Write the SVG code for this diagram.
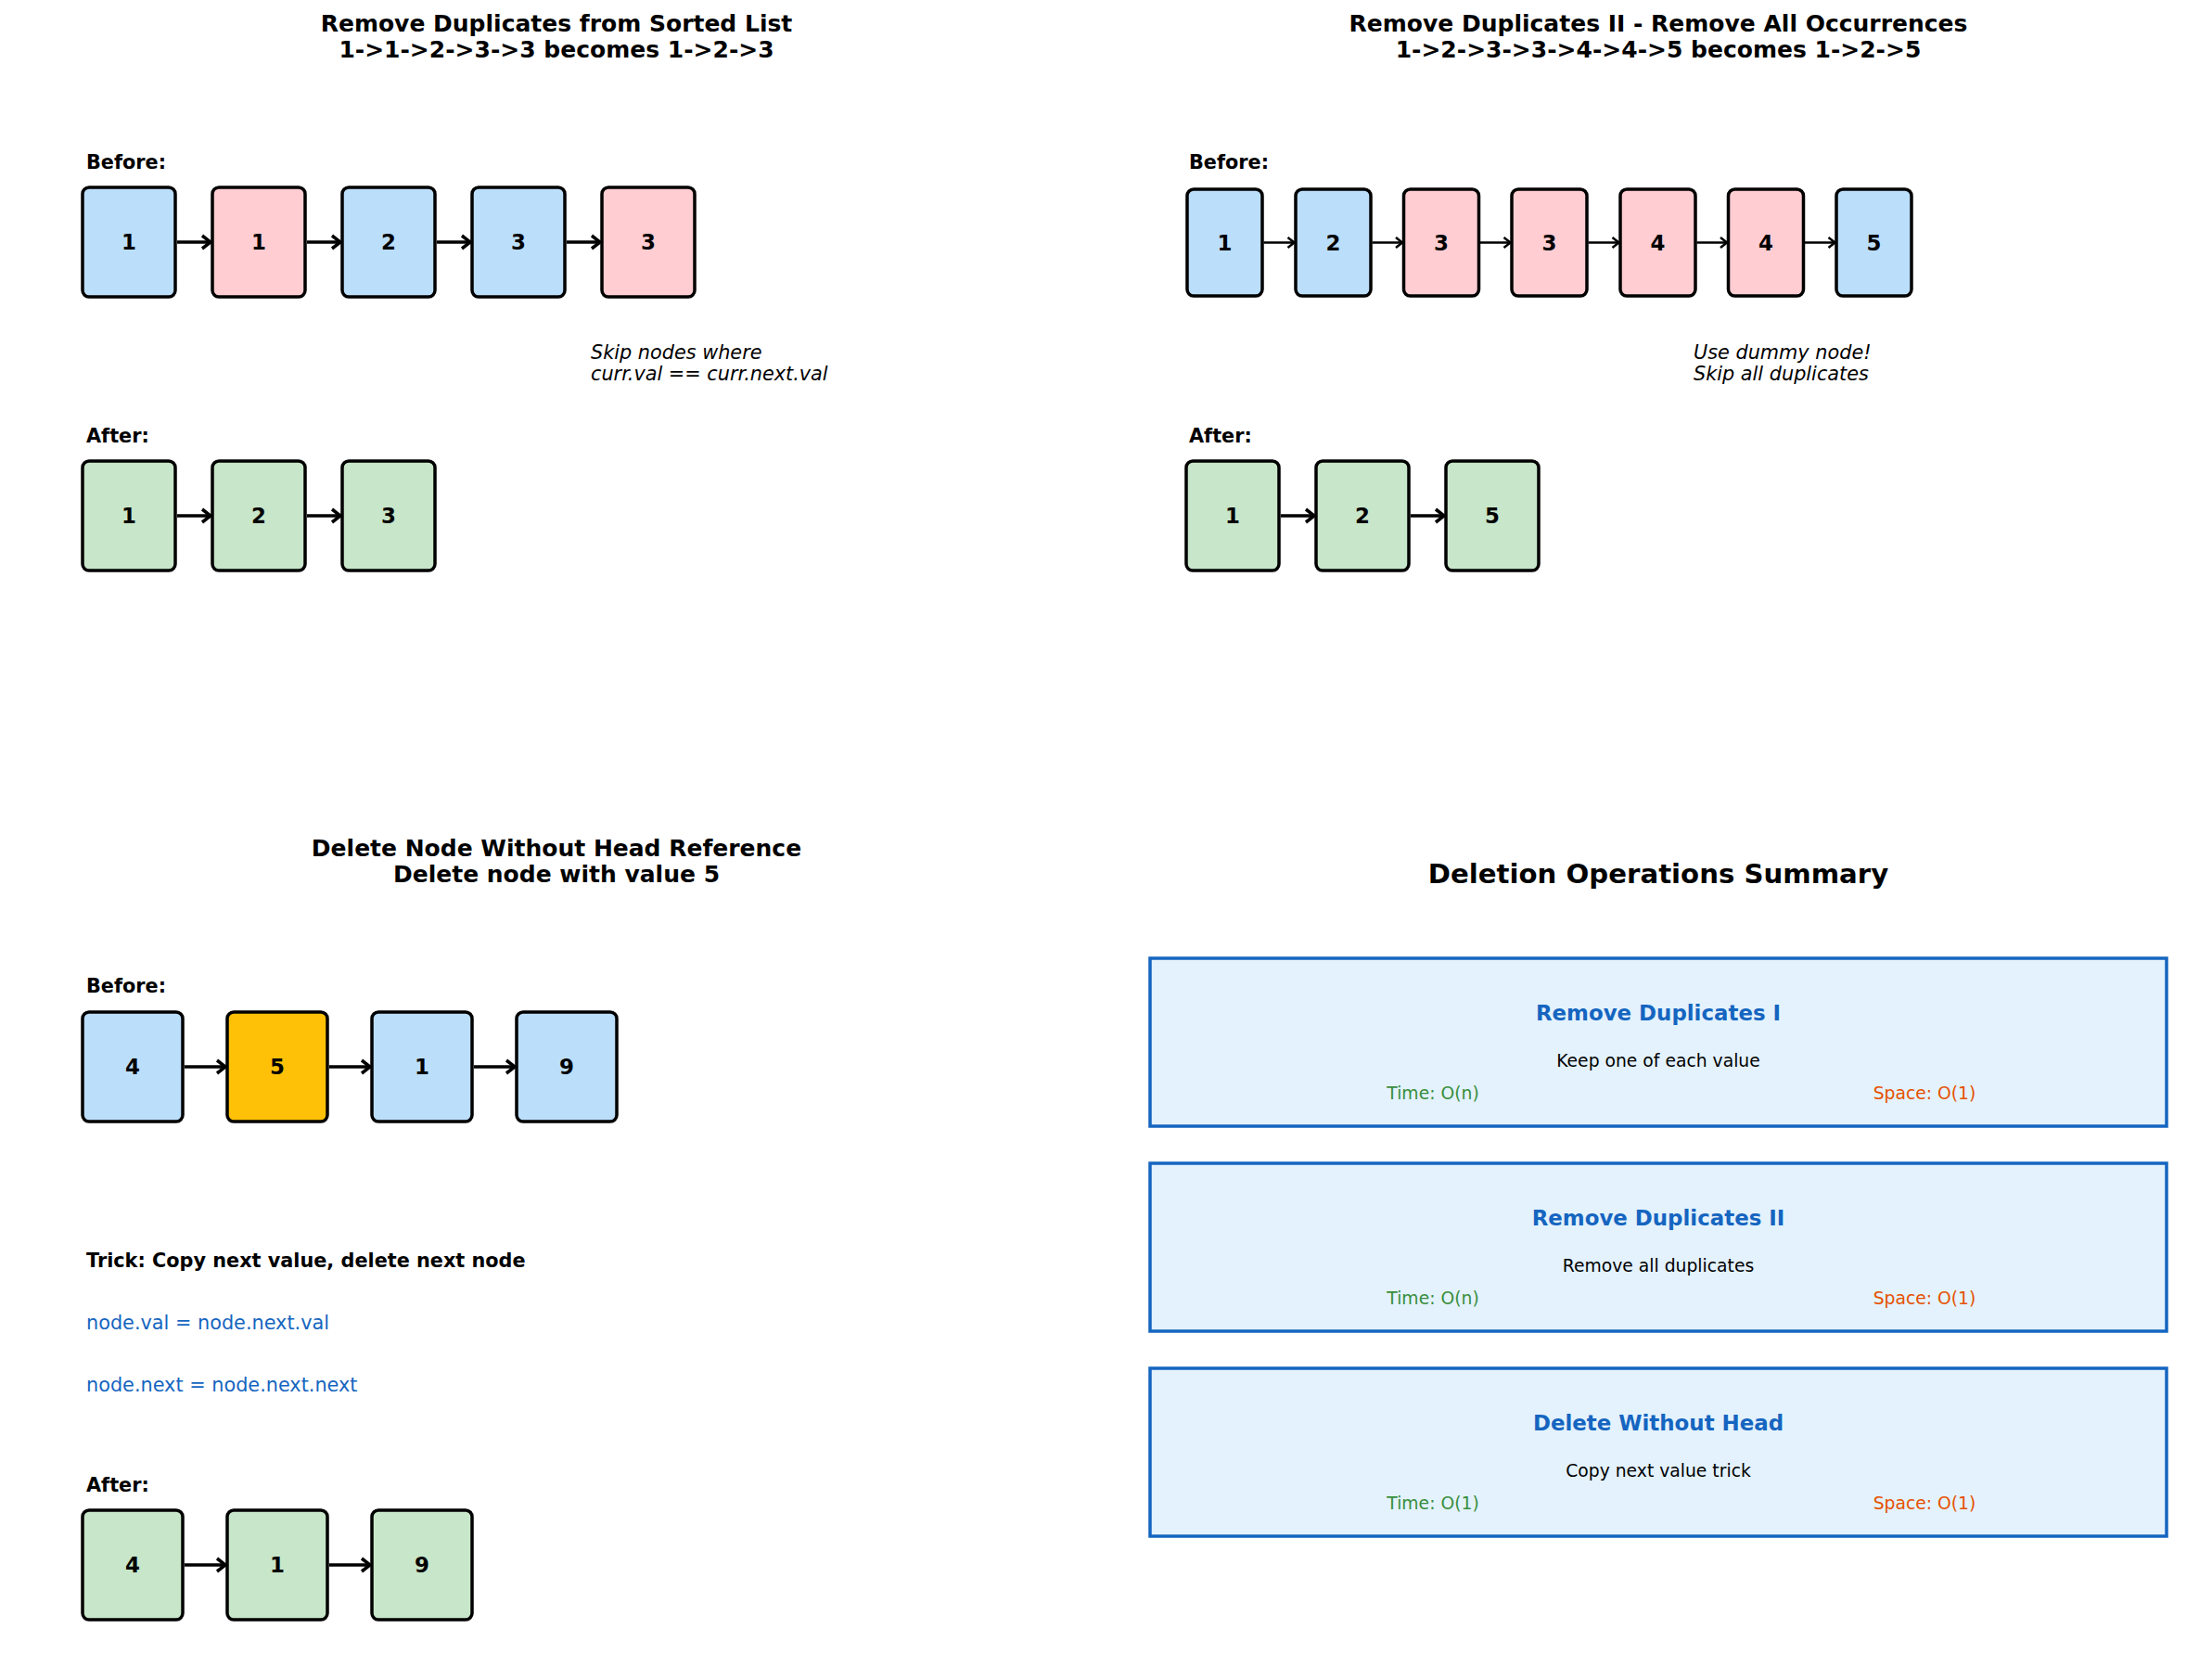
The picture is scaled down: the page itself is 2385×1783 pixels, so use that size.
<svg xmlns="http://www.w3.org/2000/svg" width="2385" height="1783" viewBox="0 0 2385 1783">
<style>
text{font-family:"DejaVu Sans","Liberation Sans",sans-serif;fill:#000}
.title{font-size:25px;font-weight:bold;text-anchor:middle}
.big{font-size:29.2px;font-weight:bold;text-anchor:middle}
.lbl{font-size:20.8px;font-weight:bold}
.num{font-size:22.9px;font-weight:bold;text-anchor:middle}
.note{font-size:20.8px;font-style:italic}
.code{font-size:20.8px;fill:#1565C0}
.trick{font-size:20.8px;font-weight:bold}
.node rect{stroke:#000;stroke-width:3.5}
.blue{fill:#BBDEFB}.pink{fill:#FFCDD2}.green{fill:#C8E6C9}.gold{fill:#FFC107}
.sbox rect{fill:#E3F2FD;stroke:#1565C0;stroke-width:3.5}
.st{font-size:22.9px;font-weight:bold;fill:#1565C0;text-anchor:middle}
.sd{font-size:18.75px;text-anchor:middle}
.tm{font-size:18.75px;fill:#388E3C;text-anchor:middle}
.sp{font-size:18.75px;fill:#E65100;text-anchor:middle}
.ar{stroke:#000;stroke-width:3.5;fill:none}
.ar2{stroke:#000;stroke-width:2.5;fill:none}
</style>
<defs>
<marker id="h" markerUnits="userSpaceOnUse" markerWidth="20" markerHeight="20" refX="12" refY="10" orient="auto" viewBox="0 0 20 20">
<path d="M3,3 L12,10 L3,17" fill="none" stroke="#000" stroke-width="3.5"/>
</marker>
<marker id="hs" markerUnits="userSpaceOnUse" markerWidth="20" markerHeight="20" refX="12" refY="10" orient="auto" viewBox="0 0 20 20">
<path d="M5,4.5 L12,10 L5,15.5" fill="none" stroke="#000" stroke-width="2.5"/>
</marker>
</defs>

<!-- Titles and labels -->
<g id="labels">
<text class="title" x="600" y="33.5">Remove Duplicates from Sorted List</text>
<text class="title" x="600" y="62">1-&gt;1-&gt;2-&gt;3-&gt;3 becomes 1-&gt;2-&gt;3</text>
<text class="lbl" x="93" y="181.5">Before:</text>
<text class="note" x="637" y="386.5">Skip nodes where</text>
<text class="note" x="637" y="410">curr.val == curr.next.val</text>
<text class="lbl" x="93" y="476.5">After:</text>

<text class="title" x="1788" y="33.5">Remove Duplicates II - Remove All Occurrences</text>
<text class="title" x="1788" y="62">1-&gt;2-&gt;3-&gt;3-&gt;4-&gt;4-&gt;5 becomes 1-&gt;2-&gt;5</text>
<text class="lbl" x="1282" y="181.5">Before:</text>
<text class="note" x="1826" y="386.5">Use dummy node!</text>
<text class="note" x="1826" y="410">Skip all duplicates</text>
<text class="lbl" x="1282" y="476.5">After:</text>

<text class="title" x="600" y="922.5">Delete Node Without Head Reference</text>
<text class="title" x="600" y="951">Delete node with value 5</text>
<text class="lbl" x="93" y="1070">Before:</text>
<text class="trick" x="93" y="1366">Trick: Copy next value, delete next node</text>
<text class="code" x="93" y="1433">node.val = node.next.val</text>
<text class="code" x="93" y="1500">node.next = node.next.next</text>
<text class="lbl" x="93" y="1608">After:</text>

<text class="big" x="1788" y="951.5">Deletion Operations Summary</text>
</g>

<!-- Panel 1: before -->
<g id="p1b1" class="node"><rect class="blue" x="89" y="202" width="100" height="118" rx="7"/><text class="num" x="139" y="269">1</text></g>
<g id="p1b2" class="node"><rect class="pink" x="229" y="202" width="100" height="118" rx="7"/><text class="num" x="279" y="269">1</text></g>
<g id="p1b3" class="node"><rect class="blue" x="369" y="202" width="100" height="118" rx="7"/><text class="num" x="419" y="269">2</text></g>
<g id="p1b4" class="node"><rect class="blue" x="509" y="202" width="100" height="118" rx="7"/><text class="num" x="559" y="269">3</text></g>
<g id="p1b5" class="node"><rect class="pink" x="649" y="202" width="100" height="118" rx="7"/><text class="num" x="699" y="269">3</text></g>
<!-- Panel 1: after -->
<g id="p1a1" class="node"><rect class="green" x="89" y="497" width="100" height="118" rx="7"/><text class="num" x="139" y="564">1</text></g>
<g id="p1a2" class="node"><rect class="green" x="229" y="497" width="100" height="118" rx="7"/><text class="num" x="279" y="564">2</text></g>
<g id="p1a3" class="node"><rect class="green" x="369" y="497" width="100" height="118" rx="7"/><text class="num" x="419" y="564">3</text></g>

<!-- Panel 2: before -->
<g id="p2b1" class="node"><rect class="blue" x="1280" y="204" width="81" height="115" rx="7"/><text class="num" x="1320.5" y="269.5">1</text></g>
<g id="p2b2" class="node"><rect class="blue" x="1397" y="204" width="81" height="115" rx="7"/><text class="num" x="1437.5" y="269.5">2</text></g>
<g id="p2b3" class="node"><rect class="pink" x="1513.5" y="204" width="81" height="115" rx="7"/><text class="num" x="1554" y="269.5">3</text></g>
<g id="p2b4" class="node"><rect class="pink" x="1630" y="204" width="81" height="115" rx="7"/><text class="num" x="1670.5" y="269.5">3</text></g>
<g id="p2b5" class="node"><rect class="pink" x="1747" y="204" width="81" height="115" rx="7"/><text class="num" x="1787.5" y="269.5">4</text></g>
<g id="p2b6" class="node"><rect class="pink" x="1863.5" y="204" width="81" height="115" rx="7"/><text class="num" x="1904" y="269.5">4</text></g>
<g id="p2b7" class="node"><rect class="blue" x="1980" y="204" width="81" height="115" rx="7"/><text class="num" x="2020.5" y="269.5">5</text></g>
<!-- Panel 2: after -->
<g id="p2a1" class="node"><rect class="green" x="1279" y="497" width="100" height="118" rx="7"/><text class="num" x="1329" y="564">1</text></g>
<g id="p2a2" class="node"><rect class="green" x="1419" y="497" width="100" height="118" rx="7"/><text class="num" x="1469" y="564">2</text></g>
<g id="p2a3" class="node"><rect class="green" x="1559" y="497" width="100" height="118" rx="7"/><text class="num" x="1609" y="564">5</text></g>

<!-- Panel 3: before -->
<g id="p3b1" class="node"><rect class="blue" x="89" y="1091" width="108" height="118" rx="7"/><text class="num" x="143" y="1158">4</text></g>
<g id="p3b2" class="node"><rect class="gold" x="245" y="1091" width="108" height="118" rx="7"/><text class="num" x="299" y="1158">5</text></g>
<g id="p3b3" class="node"><rect class="blue" x="401" y="1091" width="108" height="118" rx="7"/><text class="num" x="455" y="1158">1</text></g>
<g id="p3b4" class="node"><rect class="blue" x="557" y="1091" width="108" height="118" rx="7"/><text class="num" x="611" y="1158">9</text></g>
<!-- Panel 3: after -->
<g id="p3a1" class="node"><rect class="green" x="89" y="1628" width="108" height="118" rx="7"/><text class="num" x="143" y="1695">4</text></g>
<g id="p3a2" class="node"><rect class="green" x="245" y="1628" width="108" height="118" rx="7"/><text class="num" x="299" y="1695">1</text></g>
<g id="p3a3" class="node"><rect class="green" x="401" y="1628" width="108" height="118" rx="7"/><text class="num" x="455" y="1695">9</text></g>

<!-- Summary boxes -->
<g id="sum1" class="sbox"><rect x="1240" y="1033" width="1096" height="181"/>
<text class="st" x="1788" y="1100">Remove Duplicates I</text>
<text class="sd" x="1788" y="1150">Keep one of each value</text>
<text class="tm" x="1545" y="1185">Time: O(n)</text>
<text class="sp" x="2075" y="1185">Space: O(1)</text></g>
<g id="sum2" class="sbox"><rect x="1240" y="1254" width="1096" height="181"/>
<text class="st" x="1788" y="1321">Remove Duplicates II</text>
<text class="sd" x="1788" y="1371">Remove all duplicates</text>
<text class="tm" x="1545" y="1406">Time: O(n)</text>
<text class="sp" x="2075" y="1406">Space: O(1)</text></g>
<g id="sum3" class="sbox"><rect x="1240" y="1475" width="1096" height="181"/>
<text class="st" x="1788" y="1542">Delete Without Head</text>
<text class="sd" x="1788" y="1592">Copy next value trick</text>
<text class="tm" x="1545" y="1627">Time: O(1)</text>
<text class="sp" x="2075" y="1627">Space: O(1)</text></g>

<!-- Connectors -->
<g id="connectors">
<path class="ar" marker-end="url(#h)" d="M191,261 H227"/>
<path class="ar" marker-end="url(#h)" d="M331,261 H367"/>
<path class="ar" marker-end="url(#h)" d="M471,261 H507"/>
<path class="ar" marker-end="url(#h)" d="M611,261 H647"/>
<path class="ar" marker-end="url(#h)" d="M191,556 H227"/>
<path class="ar" marker-end="url(#h)" d="M331,556 H367"/>

<path class="ar2" marker-end="url(#hs)" d="M1362.5,261.5 H1395.5"/>
<path class="ar2" marker-end="url(#hs)" d="M1479.5,261.5 H1512"/>
<path class="ar2" marker-end="url(#hs)" d="M1596,261.5 H1628.5"/>
<path class="ar2" marker-end="url(#hs)" d="M1712.5,261.5 H1745.5"/>
<path class="ar2" marker-end="url(#hs)" d="M1829.5,261.5 H1862"/>
<path class="ar2" marker-end="url(#hs)" d="M1946,261.5 H1978.5"/>

<path class="ar" marker-end="url(#h)" d="M1381,556 H1417"/>
<path class="ar" marker-end="url(#h)" d="M1521,556 H1557"/>

<path class="ar" marker-end="url(#h)" d="M199,1150 H243"/>
<path class="ar" marker-end="url(#h)" d="M355,1150 H399"/>
<path class="ar" marker-end="url(#h)" d="M511,1150 H555"/>
<path class="ar" marker-end="url(#h)" d="M199,1687 H243"/>
<path class="ar" marker-end="url(#h)" d="M355,1687 H399"/>
</g>
</svg>
